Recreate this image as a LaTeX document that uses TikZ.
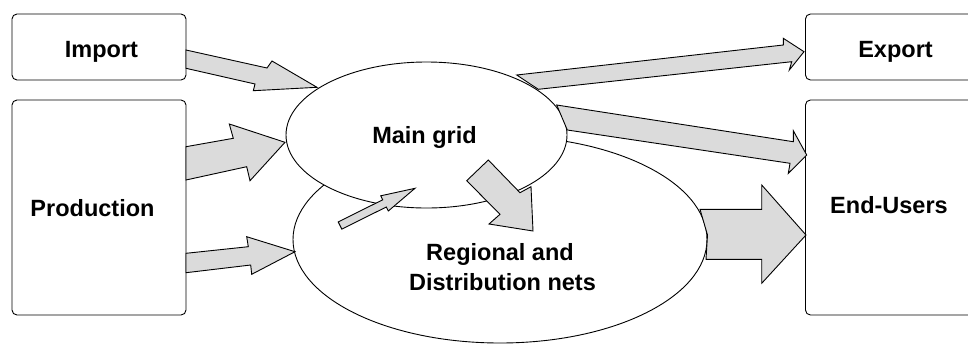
\documentclass[tikz,border=0pt]{standalone}
\usepackage{fontspec}
\setmainfont{Liberation Sans}
\usetikzlibrary{shapes.geometric}
\begin{document}
\begin{tikzpicture}[x=1pt,y=-1pt,
  box/.style={draw=black,line width=0.9pt,fill=white,rounded corners=5pt,inner sep=0pt},
  oval/.style={draw=black,line width=0.9pt,fill=white,ellipse,inner sep=0pt},
  blk/.style={draw=black,line width=0.9pt,fill=black!14,line join=miter},
  lbl/.style={inner sep=0pt,anchor=base,font=\fontsize{23.5}{30}\selectfont\bfseries}]
\clip (0,0) rectangle (968,346);
\fill[white] (0,0) rectangle (968,346);
% boxes
\node[box,minimum width=174pt,minimum height=66pt] (import) at (99,47) {};
\node[box,minimum width=174pt,minimum height=215pt] (production) at (99,207.5) {};
\node[box,minimum width=200pt,minimum height=66pt,anchor=west] (export) at (805,47) {};
\node[box,minimum width=200pt,minimum height=215pt,anchor=west] (endusers) at (805,207.5) {};
% ellipses
\node[oval,minimum width=414pt,minimum height=207pt] (regional) at (500,239.5) {};
\node[oval,minimum width=281pt,minimum height=146pt] (maingrid) at (426.5,135) {};
% block arrows
\draw[blk] (186,50) -- (267,68) -- (272,61) -- (317,87.3) -- (253.3,90.7) -- (255,84) -- (186,68.3) -- cycle;
\draw[blk] (186,146.7) -- (233.3,138.3) -- (229.3,124) -- (285,142.3) -- (250,180.7) -- (246.7,166.7) -- (186,180) -- cycle;
\draw[blk] (186,253.3) -- (248.3,246.7) -- (246.7,236.7) -- (295,251.7) -- (251.7,274.3) -- (250.7,265) -- (186,272.7) -- cycle;
\draw[blk] (516.7,75) -- (783.3,45) -- (783.3,38.3) -- (804,51.7) -- (789.3,70) -- (791.7,61.7) -- (538.3,89.3) -- cycle;
\draw[blk] (556.7,105) -- (793.3,141.7) -- (793.3,130.7) -- (806.7,155) -- (788.3,173.3) -- (790,163.3) -- (567.3,130) -- cycle;
\draw[blk] (700,209.3) -- (761.7,209.3) -- (761.7,185) -- (806,235) -- (761.7,283.3) -- (761.7,259.3) -- (706,259.3) -- (707.5,235) -- cycle;
\draw[blk] (466.7,180.7) -- (488.3,160) -- (520,192.7) -- (531,186.7) -- (533,231) -- (489,224) -- (500,214.3) -- cycle;
\draw[blk] (338.2,221.9) -- (382.7,199.8) -- (380.7,195.8) -- (415,188.3) -- (388.3,211) -- (386.3,207) -- (341.8,229.1) -- cycle;
% labels
\node[lbl] (timport) at (101.5,57) {Import};
\node[lbl] (texport) at (895.5,57) {Export};
\node[lbl] (tprod) at (92.5,216) {Production};
\node[lbl] (tmain) at (424.5,143.3) {Main grid};
\node[lbl] (treg1) at (500,260) {Regional and};
\node[lbl] (treg2) at (502.5,290) {Distribution nets};
\node[lbl] (tend) at (889,213.3) {End-Users};
\end{tikzpicture}
\end{document}
